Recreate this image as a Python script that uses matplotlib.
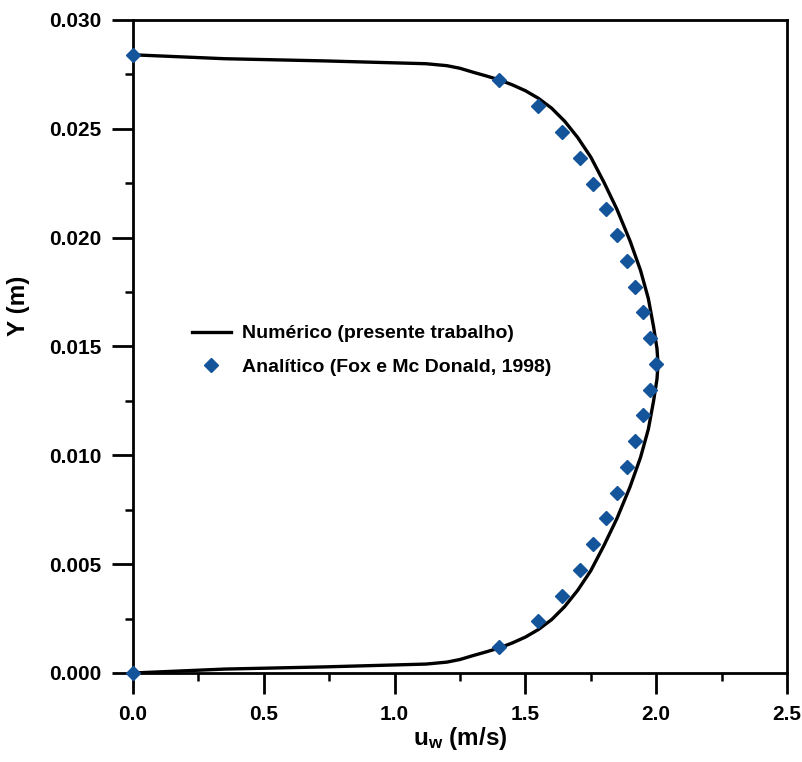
import matplotlib.pyplot as plt
from matplotlib.ticker import MultipleLocator, FormatStrFormatter

# Perfil numérico de velocidade (u em m/s, y em mm)
u_num = [0.00, 0.35, 0.73, 1.12, 1.20, 1.25, 1.30, 1.35, 1.40, 1.45, 1.50, 1.55,
         1.60, 1.65, 1.70, 1.75, 1.80, 1.85, 1.90, 1.94, 1.97, 1.99, 2.003, 2.007,
         2.003, 1.99, 1.97, 1.94, 1.90, 1.85, 1.80, 1.75, 1.70, 1.65, 1.60, 1.55,
         1.50, 1.45, 1.40, 1.35, 1.30, 1.25, 1.20, 1.12, 0.73, 0.35, 0.00]
y_num_mm = [0.00, 0.18, 0.28, 0.41, 0.50, 0.62, 0.80, 0.97, 1.15, 1.38, 1.65, 2.00,
            2.45, 3.05, 3.80, 4.70, 5.85, 7.10, 8.55, 9.90, 11.20, 12.50, 13.50, 14.20,
            14.90, 15.90, 17.20, 18.50, 19.85, 21.30, 22.55, 23.70, 24.60, 25.35, 25.95,
            26.40, 26.75, 27.02, 27.25, 27.43, 27.60, 27.78, 27.90, 27.99, 28.12, 28.22,
            28.40]

# Perfil analítico (Fox e Mc Donald, 1998)
u_ana = [0.00, 1.40, 1.55, 1.64, 1.71, 1.76, 1.81, 1.85, 1.89, 1.92, 1.95, 1.975,
         2.00, 1.975, 1.95, 1.92, 1.89, 1.85, 1.81, 1.76, 1.71, 1.64, 1.55, 1.40, 0.00]
y_ana_mm = [0.00, 1.18, 2.37, 3.55, 4.73, 5.92, 7.10, 8.28, 9.47, 10.65, 11.83, 13.02,
            14.20, 15.38, 16.57, 17.75, 18.93, 20.12, 21.30, 22.48, 23.67, 24.85, 26.03,
            27.22, 28.40]

y_num = [v / 1000 for v in y_num_mm]
y_ana = [v / 1000 for v in y_ana_mm]

plt.rcParams['font.family'] = ['Liberation Sans', 'DejaVu Sans']
plt.rcParams['font.weight'] = 'bold'
plt.rcParams['mathtext.fontset'] = 'custom'
plt.rcParams['mathtext.rm'] = 'Liberation Sans:bold'
plt.rcParams['mathtext.bf'] = 'Liberation Sans:bold'

fig = plt.figure(figsize=(8.02, 7.62), dpi=100)
ax = fig.add_axes([0.1658, 0.1168, 0.8155, 0.857])

ax.plot(u_num, y_num, color='black', lw=2.4, solid_joinstyle='round',
        label='Numérico (presente trabalho)')
ax.plot(u_ana, y_ana, ls='none', marker='D', ms=7.5, color='#14549a',
        label='Analítico (Fox e Mc Donald, 1998)', zorder=3, clip_on=False)

ax.set_xlim(0, 2.5)
ax.set_ylim(0, 0.030)
ax.xaxis.set_major_locator(MultipleLocator(0.5))
ax.xaxis.set_minor_locator(MultipleLocator(0.25))
ax.yaxis.set_major_locator(MultipleLocator(0.005))
ax.yaxis.set_minor_locator(MultipleLocator(0.0025))
ax.xaxis.set_major_formatter(FormatStrFormatter('%.1f'))
ax.yaxis.set_major_formatter(FormatStrFormatter('%.3f'))

for s in ax.spines.values():
    s.set_linewidth(2.0)
ax.tick_params(which='major', direction='out', length=15, width=2.0, labelsize=15, pad=8)
ax.tick_params(which='minor', direction='out', length=6, width=1.8)
ax.tick_params(top=False, right=False, which='both')

ax.set_xlabel(r'$\mathbf{u_w}$ (m/s)', fontsize=17.5, fontweight='bold', labelpad=1)
ax.set_ylabel('Y (m)', fontsize=17.5, fontweight='bold')
ax.yaxis.set_label_coords(-0.158, 0.563)

ax.legend(loc='upper left', bbox_to_anchor=(0.078, 0.545), frameon=False,
          fontsize=14, handlelength=2.0, handletextpad=0.6, labelspacing=0.8,
          borderaxespad=0)

fig.savefig('out.png', dpi=100)
